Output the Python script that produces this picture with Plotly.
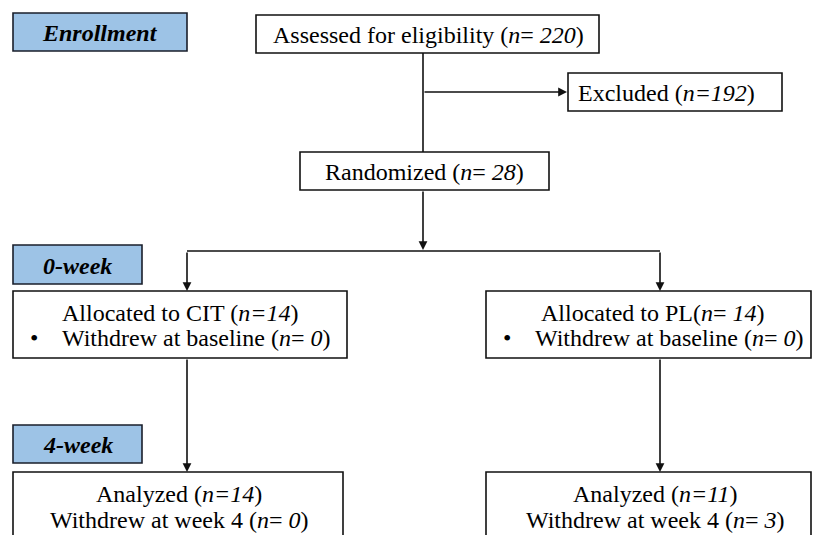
import plotly.graph_objects as go

# ---- data ----
stage_labels = ["Enrollment", "0-week", "4-week"]
groups = ["CIT", "PL"]
assessed_n = 220
excluded_n = 192
randomized_n = 28
allocated_n = [14, 14]
withdrew_baseline_n = [0, 0]
analyzed_n = [14, 11]
withdrew_week4_n = [0, 3]

W, H = 813, 535
FONT = "Liberation Serif, Times New Roman, serif"
FS = 24
BLUE = "#9DC3E6"
LINE = "#111111"

fig = go.Figure()
shapes = []
annotations = []


def box(x0, y0, x1, y1, fill="white", color=LINE):
    shapes.append(dict(type="rect", xref="x", yref="y", x0=x0, y0=y0, x1=x1, y1=y1,
                       line=dict(color=color, width=1.6), fillcolor=fill, layer="above"))


def text(x, y, s, size=FS, xanchor="center"):
    annotations.append(dict(x=x, y=y, xref="x", yref="y", text=s, showarrow=False,
                            xanchor=xanchor, yanchor="middle",
                            font=dict(family=FONT, size=size, color="black")))


def line(x0, y0, x1, y1):
    shapes.append(dict(type="line", xref="x", yref="y", x0=x0, y0=y0, x1=x1, y1=y1,
                       line=dict(color=LINE, width=1.6), layer="below"))


def arrow(x0, y0, x1, y1):
    annotations.append(dict(x=x1, y=y1, ax=x0, ay=y0, xref="x", yref="y", axref="x", ayref="y",
                            text="", showarrow=True, arrowhead=2, arrowsize=1.1, arrowwidth=1.6,
                            arrowcolor=LINE, standoff=0))


# connectors
line(423, 53, 423, 152)
arrow(423, 92, 567, 92)
arrow(423, 190, 423, 250)
line(187, 251, 660, 251)
arrow(187, 251, 187, 291)
arrow(660, 251, 660, 291)
arrow(187, 358, 187, 472)
arrow(660, 358, 660, 472)

# stage labels (blue boxes)
stage_boxes = [(13, 13, 187, 51), (13, 245, 142, 284), (13, 425, 142, 463)]
for lab, (x0, y0, x1, y1) in zip(stage_labels, stage_boxes):
    box(x0, y0, x1, y1, fill=BLUE, color="#1a1f2b")
    text((x0 + x1) / 2, (y0 + y1) / 2 + 1, f"<b><i>{lab}</i></b>", size=FS)

# top boxes
box(256, 15, 599, 53)
text(428, 35, f"Assessed for eligibility (<i>n</i>= <i>{assessed_n}</i>)")
box(568, 73, 782, 111)
text(666, 93, f"Excluded (<i>n=</i><i>{excluded_n}</i>)")
box(300, 152, 549, 190)
text(424, 172, f"Randomized (<i>n</i>= <i>{randomized_n}</i>)")

# group boxes
alloc_boxes = [(13, 291, 347, 358), (486, 291, 811, 358)]
anal_boxes = [(13, 472, 343, 560), (486, 472, 811, 560)]
alloc_fmt = ["Allocated to {g} (<i>n=</i><i>{n}</i>)", "Allocated to {g}(<i>n</i>= <i>{n}</i>)"]
centers_alloc = [180, 653]
centers_anal = [179, 655]
for i, g in enumerate(groups):
    x0, y0, x1, y1 = alloc_boxes[i]
    box(x0, y0, x1, y1)
    text(centers_alloc[i], 313, alloc_fmt[i].format(g=g, n=allocated_n[i]))
    text(centers_alloc[i], 338,
         f"•    Withdrew at baseline (<i>n</i>= <i>{withdrew_baseline_n[i]}</i>)")
    x0, y0, x1, y1 = anal_boxes[i]
    box(x0, y0, x1, y1)
    text(centers_anal[i], 494, f"Analyzed (<i>n=</i><i>{analyzed_n[i]}</i>)")
    text(centers_anal[i], 520,
         f"Withdrew at week 4 (<i>n</i>= <i>{withdrew_week4_n[i]}</i>)")

fig.update_layout(
    width=W, height=H,
    margin=dict(l=0, r=0, t=0, b=0),
    paper_bgcolor="white", plot_bgcolor="white",
    xaxis=dict(range=[0, W], visible=False, fixedrange=True),
    yaxis=dict(range=[H, 0], visible=False, fixedrange=True),
    shapes=shapes, annotations=annotations, showlegend=False,
)
fig.write_html("out.html", config={"displayModeBar": False},
               post_script="document.body.style.margin='0';document.body.style.overflow='hidden';")
